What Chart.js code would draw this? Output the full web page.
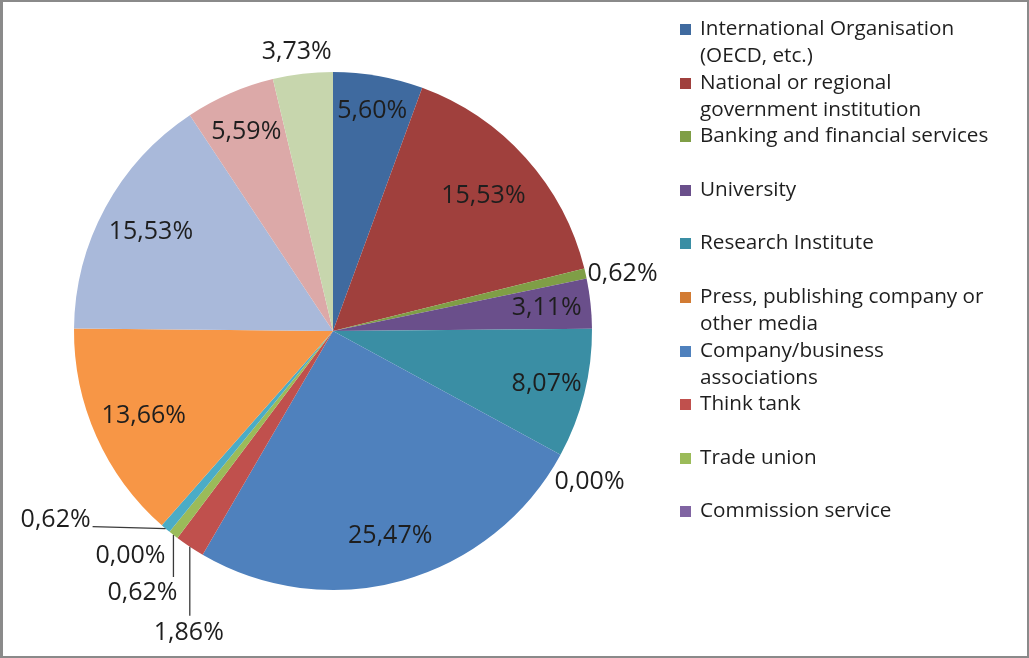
<!DOCTYPE html>
<html>
<head>
<meta charset="utf-8">
<script src="https://cdn.jsdelivr.net/npm/chart.js@4/dist/chart.umd.min.js"></script>
<style>
  html, body { margin: 0; padding: 0; background: #fff; }
  .frame {
    position: relative;
    width: 1029px; height: 658px;
    box-sizing: border-box;
    border: 2px solid #8a8a8a;
    border-left-width: 3px;
    background: #fff;
    overflow: hidden;
  }
  .frame canvas { position: absolute; left: 0; top: 0; }
  .legend { position: absolute; left: 677px; top: 12px; font-family: "Open Sans", sans-serif; font-size: 20.7px; color: #1e1e1e; }
  .legend .item { position: relative; height: 53.6px; }
  .legend .box { position: absolute; left: 0; top: 10px; width: 11px; height: 11px; }
  .legend .txt { position: absolute; left: 20px; top: 0; width: 302px; line-height: 27px; white-space: pre-line; }
</style>
</head>
<body>
<div class="frame">
  <canvas id="pie" width="1024" height="654" style="width:1024px;height:654px"></canvas>
  <div class="legend" id="legend"></div>
</div>
<script>
// categories (only the first 10 are named in the legend of the original)
const categories = [
  'International Organisation (OECD, etc.)',
  'National or regional government institution',
  'Banking and financial services',
  'University',
  'Research Institute',
  'Press, publishing company or other media',
  'Company/business associations',
  'Think tank',
  'Trade union',
  'Commission service',
  'Other 11',
  'Other 12',
  'Other 13',
  'Other 14',
  'Other 15'
];
const shares = [5.60, 15.53, 0.62, 3.11, 8.07, 0.00, 25.47, 1.86, 0.62, 0.00, 0.62, 13.66, 15.53, 5.59, 3.73];
const colors = [
  '#3f6a9f', '#a0403d', '#7f9e46', '#6a4f8b', '#3a8ea4', '#d27b33',
  '#4f81bd', '#c0504d', '#9bbb59', '#8064a2', '#4bacc6', '#f79646',
  '#a9b9da', '#dca9a8', '#c7d6ad'
];
const legendCount = 10;

// where each percentage goes: r = inside at fraction of radius,
// dx/dy = offset from the slice's outer edge, line = leader line end
const placements = {
  0: { r: 0.865 }, 1: { r: 0.78 }, 3: { r: 0.83 }, 4: { r: 0.85 },
  6: { r: 0.82 }, 11: { r: 0.8 }, 12: { r: 0.8 }, 13: { r: 0.84 },
  2: { dx: 37, dy: 0 },
  5: { dx: 29, dy: 27 },
  14: { dx: -6, dy: -22 },
  7: { line: [0, 69], dx: -1, dy: 86 },
  8: { line: [0, 42], dx: -31, dy: 58 },
  9: { dx: -39, dy: 24 },
  10: { line: [-73, -2], dx: -110, dy: -9 }
};

function fmt(v) {
  return v.toFixed(2).replace('.', ',') + '%';
}

const pieLabels = {
  id: 'pieLabels',
  afterDatasetsDraw(chart) {
    const ctx = chart.ctx;
    const arcs = chart.getDatasetMeta(0).data;
    ctx.save();
    ctx.font = '25px "Open Sans", sans-serif';
    ctx.fillStyle = '#1e1e1e';
    ctx.textAlign = 'center';
    ctx.textBaseline = 'middle';
    arcs.forEach((arc, i) => {
      const p = placements[i];
      if (!p) return;
      const mid = (arc.startAngle + arc.endAngle) / 2;
      const cos = Math.cos(mid), sin = Math.sin(mid);
      let x, y;
      if (p.r) {
        x = arc.x + cos * arc.outerRadius * p.r;
        y = arc.y + sin * arc.outerRadius * p.r;
      } else {
        const ax = arc.x + cos * arc.outerRadius;
        const ay = arc.y + sin * arc.outerRadius;
        if (p.line) {
          ctx.beginPath();
          ctx.strokeStyle = '#3a3a3a';
          ctx.lineWidth = 1.3;
          ctx.moveTo(ax, ay);
          ctx.lineTo(ax + p.line[0], ay + p.line[1]);
          ctx.stroke();
        }
        x = ax + p.dx;
        y = ay + p.dy;
      }
      ctx.fillText(fmt(shares[i]), x, y);
    });
    ctx.restore();
  }
};

const canvas = document.getElementById('pie');
new Chart(canvas, {
  type: 'pie',
  data: {
    labels: categories,
    datasets: [{
      data: shares,
      backgroundColor: colors,
      borderWidth: 0
    }]
  },
  options: {
    responsive: false,
    animation: false,
    devicePixelRatio: 1,
    layout: { padding: { left: 71, right: 435, top: 70, bottom: 66 } },
    plugins: {
      legend: { display: false },
      tooltip: { enabled: false }
    }
  },
  plugins: [pieLabels]
});

// legend built from the same arrays
const legend = document.getElementById('legend');
for (let i = 0; i < legendCount; i++) {
  const item = document.createElement('div');
  item.className = 'item';
  item.innerHTML = `<span class="box" style="background:${colors[i]}"></span><span class="txt">${categories[i]}</span>`;
  legend.appendChild(item);
}
</script>
</body>
</html>
